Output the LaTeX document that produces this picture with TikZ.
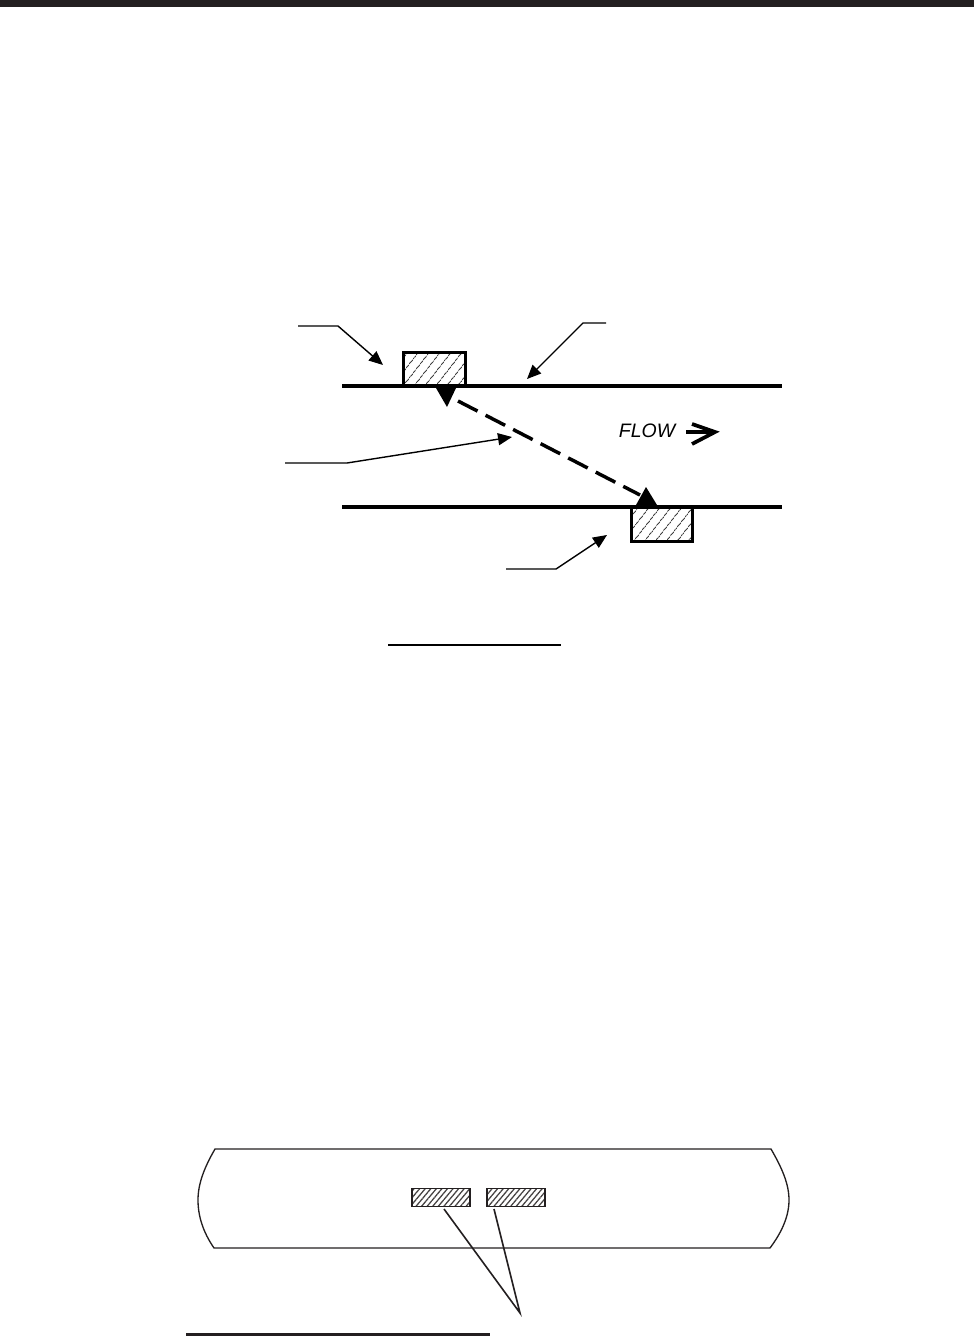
\documentclass[tikz,border=0pt]{standalone}
\usepackage{fontspec}
\setmainfont{Liberation Sans}
\usetikzlibrary{arrows.meta,patterns.meta}
\definecolor{ink}{HTML}{231F20}

\begin{document}
\begin{tikzpicture}[x=.75pt,y=-.75pt,
    pipe/.style={line width=2.6pt},
    leader/.style={line width=1.05pt,-{Triangle[length=10.5pt,width=9pt]}},
    crystal/.style={draw,line width=2.3pt,inner sep=0pt,minimum width=46pt,minimum height=26pt,
        pattern={Lines[angle=52,distance=6.5pt,line width=.6pt]}},
    padbox/.style={draw=ink,line width=1.3pt,inner sep=0pt,minimum width=43.5pt,minimum height=13.5pt,
        pattern={Lines[angle=50,distance=3.2pt,line width=.95pt]},pattern color=ink!85},
    beamhead/.style={fill=black}]
    \useasboundingbox (0,0) rectangle (974,1337);
    \fill[ink] (0,0) rectangle (974,7);

    % upper figure
    \node[crystal] (xdcr_a) at (434.5,369.5) {};
    \node[crystal] (xdcr_b) at (662,524.5) {};
    \coordinate (wall_aw) at (342,386);
    \coordinate (wall_ae) at (782,386);
    \coordinate (wall_bw) at (342,507);
    \coordinate (wall_be) at (782,507);
    \draw[pipe] (wall_aw) -- (wall_ae);
    \draw[pipe] (wall_bw) -- (wall_be);

    \coordinate (beam_a) at (458,401);
    \coordinate (beam_b) at (640,495);
    \draw[line width=2.6pt,dash pattern=on 16.5pt off 6.75pt] (beam_a) -- (beam_b);
    \fill[beamhead] (436,388) -- (456,388) -- (447,407) -- cycle;
    \fill[beamhead] (636,505) -- (657,505) -- (646,487) -- cycle;

    \node[font=\itshape,inner sep=0pt] (flow) at (647,431) {\fontsize{14.6}{16}\selectfont FLOW};
    \coordinate (flow_tip) at (715,432);
    \draw[line width=2.8pt] ([xshift=8pt]flow.east |- flow_tip) -- (flow_tip);
    \draw[line width=2.8pt] (692,424) -- (flow_tip) -- (692,444);

    % leaders
    \coordinate (lead_a) at (298,326);
    \coordinate (lead_b) at (606,323);
    \coordinate (lead_c) at (285,463);
    \coordinate (lead_d) at (506,569);
    \draw[leader] (lead_a) -- (338,326) -- (383,365);
    \draw[leader] (lead_b) -- (583,323) -- (527,379);
    \draw[leader] (lead_c) -- (347,463) -- (512,437);
    \draw[leader] (lead_d) -- (556,569) -- (607,535);

    \coordinate (rule_aw) at (388,645);
    \coordinate (rule_ae) at (561,645);
    \draw[line width=1.2pt] (rule_aw) -- (rule_ae);

    % lower figure
    \draw[ink,line width=1pt] (215,1149) -- (771,1149)
        .. controls (782,1168) and (789,1184) .. (789,1200)
        .. controls (789,1216) and (782,1232) .. (770,1248)
        -- (214,1248)
        .. controls (203,1232) and (198,1216) .. (198,1200)
        .. controls (198,1184) and (204,1168) .. (215,1149) -- cycle;
    \node[padbox] (pad_a) at (441,1197.5) {};
    \node[padbox] (pad_b) at (516,1197.5) {};
    \coordinate (pad_apex) at (520,1313);
    \draw[ink,line width=1.2pt] (444,1209) -- (pad_apex) -- (494,1209);

    \coordinate (rule_bw) at (186,1334.5);
    \coordinate (rule_be) at (490,1334.5);
    \draw[ink,line width=2.6pt] (rule_bw) -- (rule_be);
\end{tikzpicture}
\end{document}
